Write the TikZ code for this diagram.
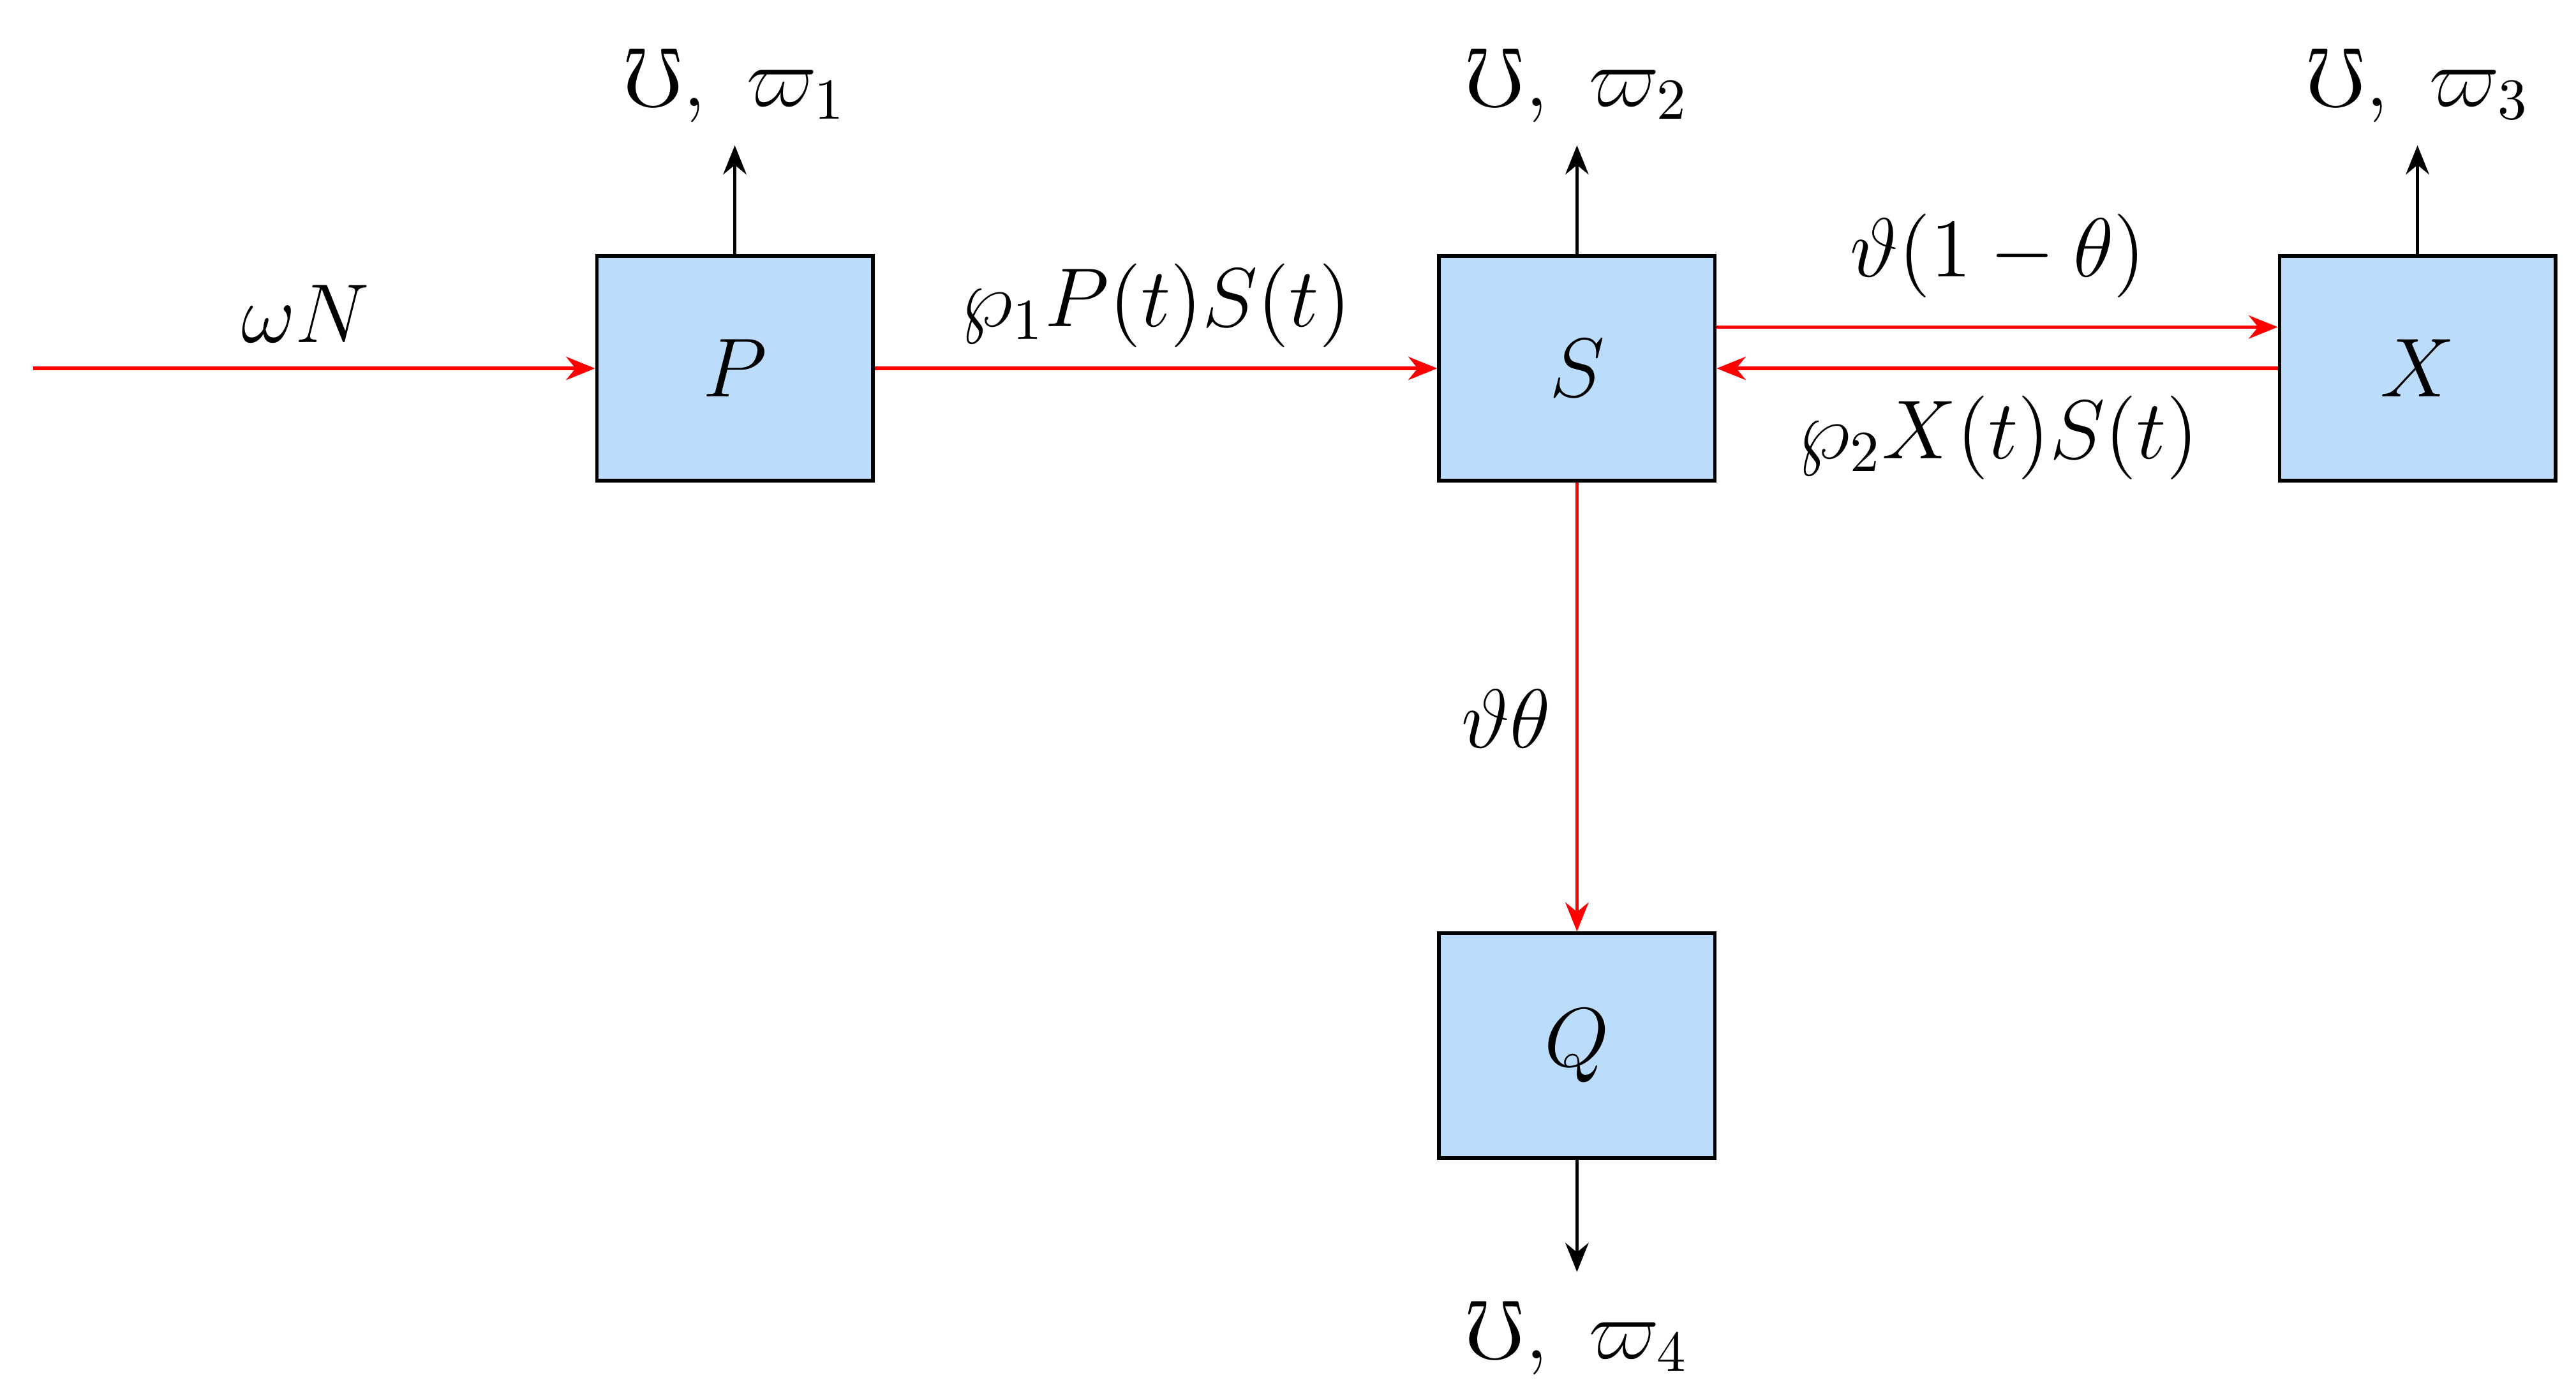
\documentclass[tikz,border=0pt]{standalone}
\usepackage{amssymb}
\usetikzlibrary{arrows.meta}
\definecolor{boxblue}{RGB}{187,221,251}
\begin{document}
\begin{tikzpicture}[x=0.01cm,y=-0.01cm,
  box/.style={draw,fill=boxblue,minimum width=1.67cm,minimum height=1.36cm,inner sep=0pt,font=\Large,line width=0.6pt},
  flow/.style={red,line width=0.6pt,-{Stealth[length=5pt,width=4pt]}},
  outarr/.style={black,line width=0.6pt,-{Stealth[length=5pt,width=4pt]}},
  lab/.style={font=\Large}]
\useasboundingbox (0,0) rectangle (1560,845);
\node[box] (P) at (445,223) {$P$};
\node[box] (S) at (955,223) {$S$};
\node[box] (X) at (1464,223) {$X$};
\node[box] (Q) at (955,633) {$Q$};
\coordinate (in) at (20,223);
\draw[flow] (in) -- (P);
\node[lab] (lwN) at (185,190) {$\omega N$};
\draw[flow] (P) -- (S);
\node[lab] (lps) at (700,185) {$\wp_1 P(t)S(t)$};
\draw[flow] ([yshift=0.25cm]S.east) -- ([yshift=0.25cm]X.west);
\node[lab] (ltheta) at (1210,155) {$\vartheta(1-\theta)$};
\draw[flow] (X) -- (S);
\node[lab] (lxs) at (1210,265) {$\wp_2 X(t)S(t)$};
\draw[flow] (S) -- (Q);
\node[lab] (lvt) at (912,435) {$\vartheta\theta$};
\coordinate (uP) at (445,88);
\coordinate (uS) at (955,88);
\coordinate (uX) at (1464,88);
\coordinate (dQ) at (955,770);
\draw[outarr] (P) -- (uP);
\draw[outarr] (S) -- (uS);
\draw[outarr] (X) -- (uX);
\draw[outarr] (Q) -- (dQ);
\node[lab] (m1) at (445,52) {$\mho,\ \varpi_1$};
\node[lab] (m2) at (955,52) {$\mho,\ \varpi_2$};
\node[lab] (m3) at (1464,52) {$\mho,\ \varpi_3$};
\node[lab] (m4) at (955,810) {$\mho,\ \varpi_4$};
\end{tikzpicture}
\end{document}
